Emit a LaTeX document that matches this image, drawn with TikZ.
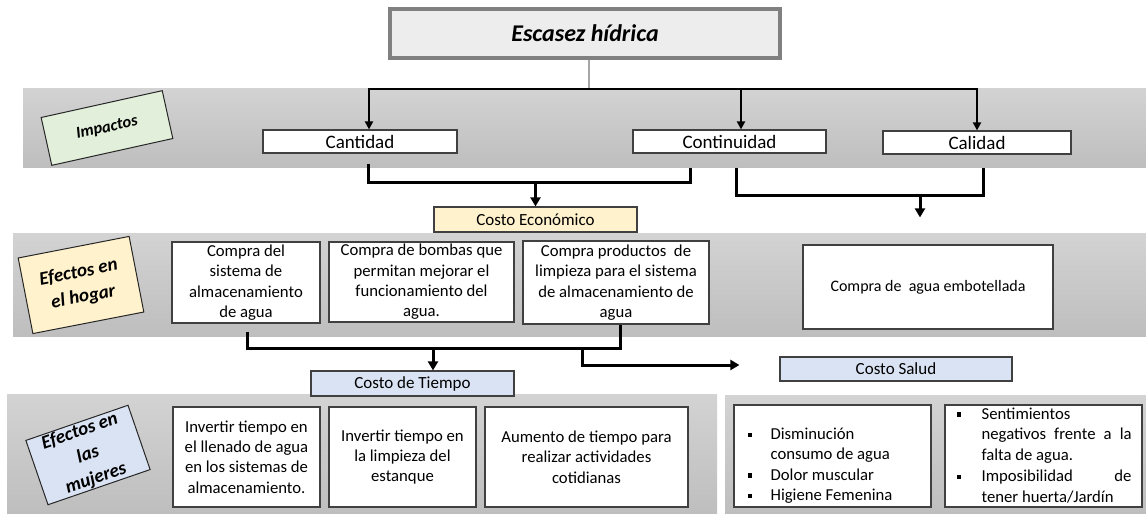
\documentclass[tikz,border=0pt]{standalone}
\usepackage{fontspec}
\setmainfont{Carlito}
\usepackage{xcolor}
\usetikzlibrary{arrows.meta,shapes,positioning,calc}

\definecolor{bandtop}{HTML}{D3D3D3}
\definecolor{bandbot}{HTML}{BEBEBE}
\definecolor{titlefill}{HTML}{EDEDED}
\definecolor{titleline}{HTML}{808080}
\definecolor{greenlab}{HTML}{E2EFDA}
\definecolor{yellowlab}{HTML}{FFF2CC}
\definecolor{bluelab}{HTML}{DAE3F3}
\definecolor{boxline}{HTML}{404040}

\newcommand{\sqbullet}[1][23pt]{\makebox[#1][l]{\raisebox{2.4pt}{\rule{4.5pt}{4.5pt}}}}

\begin{document}
\begin{tikzpicture}[x=1pt,y=-1pt,
    band/.style={top color=bandtop, bottom color=bandbot, draw=none},
    labelbox/.style={draw=black!85, line width=1pt, align=center, inner sep=0pt,
        font=\fontsize{19}{25}\selectfont\bfseries\itshape},
    impact/.style={draw=boxline, fill=white, line width=1.2pt, minimum height=23pt,
        inner sep=0pt, font=\fontsize{19}{23}\selectfont},
    cost/.style={draw=boxline, line width=1.2pt, minimum height=25pt, inner sep=0pt,
        font=\fontsize{17}{20}\selectfont},
    effect/.style={draw=boxline, fill=white, line width=1.2pt, inner sep=0pt,
        align=center, font=\fontsize{16.7}{20.3}\selectfont},
    listtext/.style={align=left, inner sep=0pt, font=\fontsize{16.7}{20.3}\selectfont},
    branch/.style={line width=2pt, -{Triangle[length=8pt,width=8pt]}},
    bracket/.style={line width=3pt},
    arr/.style={line width=3pt, -{Triangle[length=9pt,width=10pt]}},
  ]
    \useasboundingbox (0,0) rectangle (1146,514);

    % Background bands
    \fill[band] (23,88) rectangle (1146,167);
    \fill[band] (13,233) rectangle (1146,336);
    \fill[band] (7,394) rectangle (717,514);
    \fill[band] (725,395) rectangle (1146,514);

    % Title
    \node[draw=titleline, line width=4pt, fill=titlefill, minimum width=390pt,
        minimum height=49pt, font=\fontsize{24}{29}\selectfont\bfseries\itshape]
        (title) at (585,33.5) {Escasez hídrica};

    % Row labels
    \node[labelbox, fill=greenlab, minimum width=124pt, minimum height=49pt, rotate=12.5,
        font=\fontsize{16.5}{20}\selectfont\bfseries\itshape] (impactos) at (107,128) {Impactos};
    \node[labelbox, fill=yellowlab, minimum width=113pt, minimum height=77pt, rotate=11]
        (hogar) at (81,285) {Efectos en\\el hogar};
    \node[labelbox, fill=bluelab, minimum width=108pt, minimum height=68pt, rotate=19]
        (mujeres) at (88,455) {Efectos en\\las\\mujeres};

    % Impacts
    \node[impact, minimum width=194pt] (cantidad) at (360,141.5) {Cantidad};
    \node[impact, minimum width=193pt] (continuidad) at (729.5,141.5) {Continuidad};
    \node[impact, minimum width=188pt] (calidad) at (977,142.5) {Calidad};

    \coordinate (split) at (589,89);
    \coordinate (tcant) at ([xshift=9pt]cantidad.north);
    \coordinate (tcont) at ([xshift=11.5pt]continuidad.north);
    \draw[gray!70, line width=1.5pt] (title.south -| split) -- (split);
    \draw[branch] (split) -| (tcant);
    \draw[branch] (split) -| (tcont);
    \draw[branch] (split) -| (calidad.north);

    % Costs
    \node[cost, fill=yellowlab, minimum width=203pt] (costoeco) at (535.5,219.5) {Costo Económico};
    \node[cost, fill=bluelab, minimum width=203pt] (costotiempo) at (412.5,383.5) {Costo de Tiempo};
    \node[cost, fill=bluelab, minimum width=232pt, minimum height=24pt] (costosalud) at (896,369) {Costo Salud};

    % Effects at home
    \node[effect, minimum width=148pt, minimum height=81pt] (almacen) at (246,282.5)
        {Compra del\\sistema de\\almacenamiento\\de agua};
    \node[effect, minimum width=185pt, minimum height=80pt] (bombas) at (421.5,282)
        {Compra de bombas que\\permitan mejorar el\\funcionamiento del\\agua.};
    \node[effect, minimum width=186pt, minimum height=83pt] (limpieza) at (616,282.5)
        {Compra productos~~de\\limpieza para el sistema\\de almacenamiento de\\agua};
    \node[effect, minimum width=250pt, minimum height=84pt, font=\fontsize{16}{19}\selectfont]
        (embotellada) at (928,287) {Compra de~~agua embotellada};

    % Effects on women
    \node[effect, minimum width=147pt, minimum height=100pt] (llenado) at (246.5,457)
        {Invertir tiempo en\\el llenado de agua\\en los sistemas de\\almacenamiento.};
    \node[effect, minimum width=147pt, minimum height=100pt] (estanque) at (402.5,457)
        {Invertir tiempo en\\la limpieza del\\estanque};
    \node[effect, minimum width=203pt, minimum height=100pt] (cotidianas) at (586.5,457)
        {Aumento de tiempo para\\realizar actividades\\cotidianas};
    \node[effect, minimum width=197pt, minimum height=102pt] (sintomas) at (832.5,456) {};
    \node[effect, minimum width=197pt, minimum height=102pt] (sentimientos) at (1043.5,456) {};
    \node[listtext, anchor=south west] (sintomastxt) at ([shift={(14,-4)}]sintomas.south west)
        {\sqbullet Disminución\\ \hspace*{23pt}consumo de agua\\ \sqbullet Dolor muscular\\
         \sqbullet Higiene Femenina};
    \node[listtext, anchor=north west, font=\fontsize{16.7}{20.75}\selectfont] (sentimientostxt)
        at ([shift={(12,3)}]sentimientos.north west)
        {\sqbullet[25pt]Sentimientos\\
         \hspace*{25pt}\makebox[150pt][s]{negativos frente a la}\\
         \hspace*{25pt}falta de agua.\\
         \sqbullet[25pt]\makebox[150pt][s]{Imposibilidad de}\\
         \hspace*{25pt}tener huerta/Jardín};

    % Brackets to costs
    \coordinate (jeco) at (costoeco.north |- 0,182);
    \draw[bracket] ([shift={(8,10)}]cantidad.south) |- (jeco) -| ([shift={(-39.5,14)}]continuidad.south);
    \draw[arr] (jeco) -- (costoeco.north);

    \coordinate (agua) at ([shift={(-8,-27)}]embotellada.north);
    \coordinate (jagua) at (agua |- 0,195);
    \draw[bracket] ([shift={(6.5,14)}]continuidad.south) |- (jagua) -| ([shift={(6,13)}]calidad.south);
    \draw[arr] (jagua) -- (agua);

    \coordinate (ttiempo) at ([xshift=20.5pt]costotiempo.north);
    \coordinate (jtiempo) at (ttiempo |- 0,348);
    \draw[bracket] ([shift={(1,8)}]almacen.south) |- (jtiempo) -| ([xshift=4pt]limpieza.south);
    \draw[arr] (jtiempo) -- (ttiempo);

    \coordinate (jsalud) at (582,348);
    \coordinate (tsalud) at ([shift={(-40,-4)}]costosalud.west);
    \draw[arr] (jsalud) |- (tsalud);

\end{tikzpicture}
\end{document}
